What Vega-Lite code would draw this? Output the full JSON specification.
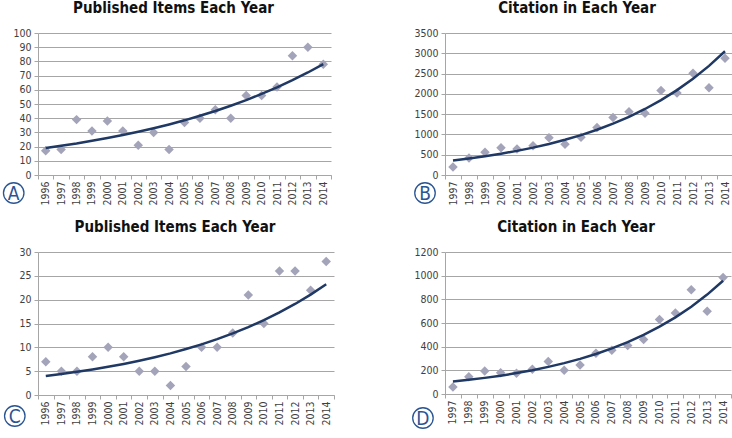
{
  "$schema": "https://vega.github.io/schema/vega-lite/v6.json",
  "padding": {"top": 1, "left": 0, "right": 0, "bottom": 0},
  "background": "white",
  "config": {
    "view": {"stroke": null},
    "font": "DejaVu Sans Condensed, Liberation Sans Narrow, sans-serif",
    "title": {"font": "DejaVu Sans Condensed, Liberation Sans Narrow, sans-serif", "fontSize": 15, "fontWeight": "bold", "color": "#111111", "anchor": "middle", "offset": 12, "dx": -11},
    "axis": {"labelFont": "DejaVu Sans Condensed, Liberation Sans Narrow, sans-serif", "labelFontSize": 10.5, "labelColor": "#404040", "domainColor": "#a6a6a6", "tickColor": "#a6a6a6", "gridColor": "#a6a6a6", "tickSize": 4, "title": null},
    "axisX": {"grid": false, "tickBand": "extent", "labelAngle": -90, "labelPadding": 2, "labelAlign": "right", "labelBaseline": "middle"},
    "axisY": {"grid": true, "labelPadding": 3, "minExtent": 37, "maxExtent": 37, "format": "d", "labelOverlap": false}
  },
  "datasets": {
    "A": [
      {"year": "1996", "value": 17, "trend": 19.0},
      {"year": "1997", "value": 18, "trend": 20.6},
      {"year": "1998", "value": 39, "trend": 22.2},
      {"year": "1999", "value": 31, "trend": 24.1},
      {"year": "2000", "value": 38, "trend": 26.0},
      {"year": "2001", "value": 31, "trend": 28.1},
      {"year": "2002", "value": 21, "trend": 30.4},
      {"year": "2003", "value": 30, "trend": 32.9},
      {"year": "2004", "value": 18, "trend": 35.6},
      {"year": "2005", "value": 37, "trend": 38.5},
      {"year": "2006", "value": 40, "trend": 41.7},
      {"year": "2007", "value": 46, "trend": 45.1},
      {"year": "2008", "value": 40, "trend": 48.8},
      {"year": "2009", "value": 56, "trend": 52.7},
      {"year": "2010", "value": 56, "trend": 57.1},
      {"year": "2011", "value": 62, "trend": 61.7},
      {"year": "2012", "value": 84, "trend": 66.8},
      {"year": "2013", "value": 90, "trend": 72.2},
      {"year": "2014", "value": 78, "trend": 78.1}
    ],
    "B": [
      {"year": "1997", "value": 200, "trend": 360},
      {"year": "1998", "value": 420, "trend": 408},
      {"year": "1999", "value": 560, "trend": 463},
      {"year": "2000", "value": 670, "trend": 525},
      {"year": "2001", "value": 640, "trend": 595},
      {"year": "2002", "value": 720, "trend": 675},
      {"year": "2003", "value": 920, "trend": 765},
      {"year": "2004", "value": 760, "trend": 868},
      {"year": "2005", "value": 930, "trend": 984},
      {"year": "2006", "value": 1170, "trend": 1116},
      {"year": "2007", "value": 1420, "trend": 1265},
      {"year": "2008", "value": 1560, "trend": 1435},
      {"year": "2009", "value": 1520, "trend": 1627},
      {"year": "2010", "value": 2080, "trend": 1845},
      {"year": "2011", "value": 2020, "trend": 2092},
      {"year": "2012", "value": 2510, "trend": 2372},
      {"year": "2013", "value": 2150, "trend": 2690},
      {"year": "2014", "value": 2880, "trend": 3050}
    ],
    "C": [
      {"year": "1996", "value": 7, "trend": 4.0},
      {"year": "1997", "value": 5, "trend": 4.41},
      {"year": "1998", "value": 5, "trend": 4.86},
      {"year": "1999", "value": 8, "trend": 5.36},
      {"year": "2000", "value": 10, "trend": 5.91},
      {"year": "2001", "value": 8, "trend": 6.52},
      {"year": "2002", "value": 5, "trend": 7.19},
      {"year": "2003", "value": 5, "trend": 7.93},
      {"year": "2004", "value": 2, "trend": 8.74},
      {"year": "2005", "value": 6, "trend": 9.64},
      {"year": "2006", "value": 10, "trend": 10.63},
      {"year": "2007", "value": 10, "trend": 11.72},
      {"year": "2008", "value": 13, "trend": 12.92},
      {"year": "2009", "value": 21, "trend": 14.25},
      {"year": "2010", "value": 15, "trend": 15.71},
      {"year": "2011", "value": 26, "trend": 17.32},
      {"year": "2012", "value": 26, "trend": 19.1},
      {"year": "2013", "value": 22, "trend": 21.06},
      {"year": "2014", "value": 28, "trend": 23.22}
    ],
    "D": [
      {"year": "1997", "value": 60, "trend": 105},
      {"year": "1998", "value": 145, "trend": 119.6},
      {"year": "1999", "value": 195, "trend": 136.2},
      {"year": "2000", "value": 180, "trend": 155.1},
      {"year": "2001", "value": 175, "trend": 176.6},
      {"year": "2002", "value": 210, "trend": 201.1},
      {"year": "2003", "value": 275, "trend": 229},
      {"year": "2004", "value": 200, "trend": 260.8},
      {"year": "2005", "value": 245, "trend": 297},
      {"year": "2006", "value": 345, "trend": 338.2},
      {"year": "2007", "value": 370, "trend": 385.2},
      {"year": "2008", "value": 410, "trend": 438.6},
      {"year": "2009", "value": 460, "trend": 499.5},
      {"year": "2010", "value": 630, "trend": 568.9},
      {"year": "2011", "value": 685, "trend": 647.8},
      {"year": "2012", "value": 880, "trend": 737.7},
      {"year": "2013", "value": 700, "trend": 840.1},
      {"year": "2014", "value": 985, "trend": 956.7}
    ],
    "LA": [{"lab": "A", "year": "1996", "v": 0}],
    "LB": [{"lab": "B", "year": "1997", "v": 0}],
    "LC": [{"lab": "C", "year": "1996", "v": 0}],
    "LD": [{"lab": "D", "year": "1997", "v": 0}]
  },
  "vconcat": [
    {
      "hconcat": [
        {
          "width": 293, "height": 142,
          "title": {"text": "Published  Items Each Year"},
          "layer": [
            {"data": {"name": "A"}, "mark": {"type": "point", "shape": "diamond", "filled": true, "size": 90, "color": "#a3a3b9", "opacity": 1},
             "encoding": {"x": {"field": "year", "type": "ordinal", "scale": {"type": "band", "paddingInner": 0, "paddingOuter": 0}}, "y": {"field": "value", "type": "quantitative", "scale": {"domain": [0, 100], "nice": false}, "axis": {"values": [0,10,20,30,40,50,60,70,80,90,100]}}}},
            {"data": {"name": "A"}, "mark": {"type": "line", "color": "#1f3864", "strokeWidth": 2.5},
             "encoding": {"x": {"field": "year", "type": "ordinal"}, "y": {"field": "trend", "type": "quantitative", "axis": {"values": [0,10,20,30,40,50,60,70,80,90,100]}}}},
            {"data": {"name": "LA"}, "mark": {"type": "point", "shape": "circle", "filled": false, "size": 420, "stroke": "#2a5593", "strokeWidth": 1.3, "opacity": 1, "xOffset": -32, "yOffset": 18},
             "encoding": {"x": {"field": "year", "type": "ordinal"}, "y": {"field": "v", "type": "quantitative", "axis": {"values": [0,10,20,30,40,50,60,70,80,90,100]}}}},
            {"data": {"name": "LA"}, "mark": {"type": "text", "fontSize": 19, "color": "#2a5593", "dx": -32, "dy": 19, "align": "center", "baseline": "middle"},
             "encoding": {"x": {"field": "year", "type": "ordinal"}, "y": {"field": "v", "type": "quantitative", "axis": {"values": [0,10,20,30,40,50,60,70,80,90,100]}}, "text": {"field": "lab"}}}
          ]
        },
        {
          "width": 288, "height": 142,
          "title": {"text": "Citation in  Each Year", "dx": -12},
          "layer": [
            {"data": {"name": "B"}, "mark": {"type": "point", "shape": "diamond", "filled": true, "size": 90, "color": "#a3a3b9", "opacity": 1},
             "encoding": {"x": {"field": "year", "type": "ordinal", "scale": {"type": "band", "paddingInner": 0, "paddingOuter": 0}}, "y": {"field": "value", "type": "quantitative", "scale": {"domain": [0, 3500], "nice": false}, "axis": {"values": [0,500,1000,1500,2000,2500,3000,3500], "minExtent": 50, "maxExtent": 50}}}},
            {"data": {"name": "B"}, "mark": {"type": "line", "color": "#1f3864", "strokeWidth": 2.5},
             "encoding": {"x": {"field": "year", "type": "ordinal"}, "y": {"field": "trend", "type": "quantitative", "axis": {"values": [0,500,1000,1500,2000,2500,3000,3500], "minExtent": 50, "maxExtent": 50}}}},
            {"data": {"name": "LB"}, "mark": {"type": "point", "shape": "circle", "filled": false, "size": 420, "stroke": "#2a5593", "strokeWidth": 1.3, "opacity": 1, "xOffset": -28, "yOffset": 18},
             "encoding": {"x": {"field": "year", "type": "ordinal"}, "y": {"field": "v", "type": "quantitative", "axis": {"values": [0,500,1000,1500,2000,2500,3000,3500], "minExtent": 50, "maxExtent": 50}}}},
            {"data": {"name": "LB"}, "mark": {"type": "text", "fontSize": 19, "color": "#2a5593", "dx": -28, "dy": 19, "align": "center", "baseline": "middle"},
             "encoding": {"x": {"field": "year", "type": "ordinal"}, "y": {"field": "v", "type": "quantitative", "axis": {"values": [0,500,1000,1500,2000,2500,3000,3500], "minExtent": 50, "maxExtent": 50}}, "text": {"field": "lab"}}}
          ]
        }
      ],
      "spacing": 63
    },
    {
      "hconcat": [
        {
          "width": 296, "height": 143,
          "title": {"text": "Published  Items Each Year"},
          "layer": [
            {"data": {"name": "C"}, "mark": {"type": "point", "shape": "diamond", "filled": true, "size": 90, "color": "#a3a3b9", "opacity": 1},
             "encoding": {"x": {"field": "year", "type": "ordinal", "scale": {"type": "band", "paddingInner": 0, "paddingOuter": 0}}, "y": {"field": "value", "type": "quantitative", "scale": {"domain": [0, 30], "nice": false}, "axis": {"values": [0,5,10,15,20,25,30]}}}},
            {"data": {"name": "C"}, "mark": {"type": "line", "color": "#1f3864", "strokeWidth": 2.5},
             "encoding": {"x": {"field": "year", "type": "ordinal"}, "y": {"field": "trend", "type": "quantitative", "axis": {"values": [0,5,10,15,20,25,30]}}}},
            {"data": {"name": "LC"}, "mark": {"type": "point", "shape": "circle", "filled": false, "size": 420, "stroke": "#2a5593", "strokeWidth": 1.3, "opacity": 1, "xOffset": -31, "yOffset": 21},
             "encoding": {"x": {"field": "year", "type": "ordinal"}, "y": {"field": "v", "type": "quantitative", "axis": {"values": [0,5,10,15,20,25,30]}}}},
            {"data": {"name": "LC"}, "mark": {"type": "text", "fontSize": 19, "color": "#2a5593", "dx": -31, "dy": 22, "align": "center", "baseline": "middle"},
             "encoding": {"x": {"field": "year", "type": "ordinal"}, "y": {"field": "v", "type": "quantitative", "axis": {"values": [0,5,10,15,20,25,30]}}, "text": {"field": "lab"}}}
          ]
        },
        {
          "width": 286, "height": 142,
          "title": {"text": "Citation in  Each Year", "dx": -12},
          "layer": [
            {"data": {"name": "D"}, "mark": {"type": "point", "shape": "diamond", "filled": true, "size": 90, "color": "#a3a3b9", "opacity": 1},
             "encoding": {"x": {"field": "year", "type": "ordinal", "scale": {"type": "band", "paddingInner": 0, "paddingOuter": 0}}, "y": {"field": "value", "type": "quantitative", "scale": {"domain": [0, 1200], "nice": false}, "axis": {"values": [0,200,400,600,800,1000,1200], "minExtent": 50, "maxExtent": 50}}}},
            {"data": {"name": "D"}, "mark": {"type": "line", "color": "#1f3864", "strokeWidth": 2.5},
             "encoding": {"x": {"field": "year", "type": "ordinal"}, "y": {"field": "trend", "type": "quantitative", "axis": {"values": [0,200,400,600,800,1000,1200], "minExtent": 50, "maxExtent": 50}}}},
            {"data": {"name": "LD"}, "mark": {"type": "point", "shape": "circle", "filled": false, "size": 420, "stroke": "#2a5593", "strokeWidth": 1.3, "opacity": 1, "xOffset": -30, "yOffset": 24},
             "encoding": {"x": {"field": "year", "type": "ordinal"}, "y": {"field": "v", "type": "quantitative", "axis": {"values": [0,200,400,600,800,1000,1200], "minExtent": 50, "maxExtent": 50}}}},
            {"data": {"name": "LD"}, "mark": {"type": "text", "fontSize": 19, "color": "#2a5593", "dx": -30, "dy": 25, "align": "center", "baseline": "middle"},
             "encoding": {"x": {"field": "year", "type": "ordinal"}, "y": {"field": "v", "type": "quantitative", "axis": {"values": [0,200,400,600,800,1000,1200], "minExtent": 50, "maxExtent": 50}}, "text": {"field": "lab"}}}
          ]
        }
      ],
      "spacing": 60
    }
  ],
  "spacing": 14
}
